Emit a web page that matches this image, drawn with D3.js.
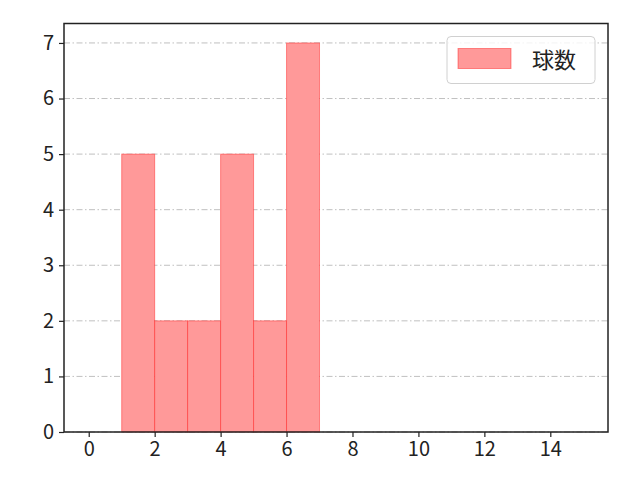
<!DOCTYPE html>
<html>
<head>
<meta charset="utf-8">
<script src="https://cdn.jsdelivr.net/npm/d3@7"></script>
<style>
  body { margin: 0; background: #fff; }
  text { font-family: "Noto Sans CJK JP", "DejaVu Sans", sans-serif; }
</style>
</head>
<body>
<div id="chart"></div>
<script>
// histogram bins (left edge, right edge) and counts
var binStarts = [1, 2, 3, 4, 5, 6];
var binEnds = [2, 3, 4, 5, 6, 7];
var counts = [5, 2, 2, 5, 2, 7];
var xTicks = [0, 2, 4, 6, 8, 10, 12, 14];
var yTicks = [0, 1, 2, 3, 4, 5, 6, 7];
var seriesName = "球数";

var svgWidth = 640;
var svgHeight = 480;

var margin = { top: 23.5, right: 32, bottom: 48, left: 64 };
var chartWidth = svgWidth - margin.left - margin.right;
var chartHeight = svgHeight - margin.top - margin.bottom;

var svg = d3.select("#chart")
  .append("svg")
  .attr("width", svgWidth)
  .attr("height", svgHeight);

var chartGroup = svg.append("g")
  .attr("transform", `translate(${margin.left}, ${margin.top})`);

var xScale = d3.scaleLinear()
  .domain([-0.75, 15.75])
  .range([0, chartWidth]);

var yScale = d3.scaleLinear()
  .domain([0, 7.35])
  .range([chartHeight, 0]);

// grid lines
chartGroup.selectAll(".grid")
  .data(yTicks)
  .enter()
  .append("line")
  .attr("x1", 0)
  .attr("x2", chartWidth)
  .attr("y1", d => yScale(d))
  .attr("y2", d => yScale(d))
  .attr("stroke", "#b0b0b0")
  .attr("stroke-width", 0.8)
  .attr("stroke-dasharray", "6,2.5,1.5,2.5");

var bins = counts.map((c, i) => ({ x0: binStarts[i], x1: binEnds[i], count: c }));

chartGroup.selectAll(".bar")
  .data(bins)
  .enter()
  .append("rect")
  .attr("class", "bar")
  .attr("x", d => xScale(d.x0))
  .attr("y", d => yScale(d.count))
  .attr("width", d => xScale(d.x1) - xScale(d.x0))
  .attr("height", d => yScale(0) - yScale(d.count))
  .attr("fill", "#ff9999")
  .attr("stroke", "#ff0000")
  .attr("stroke-opacity", 0.4)
  .attr("stroke-width", 1);

var bottomAxis = d3.axisBottom(xScale).tickValues(xTicks).tickSize(5).tickPadding(5);
var leftAxis = d3.axisLeft(yScale).tickValues(yTicks).tickSize(5).tickPadding(5);

var xAxisG = chartGroup.append("g")
  .attr("transform", `translate(0, ${chartHeight})`)
  .call(bottomAxis);
var yAxisG = chartGroup.append("g")
  .call(leftAxis);

[xAxisG, yAxisG].forEach(g => {
  g.select(".domain").remove();
  g.selectAll(".tick line").attr("stroke", "#222").attr("stroke-width", 1.2);
  g.selectAll(".tick text")
    .attr("fill", "#222")
    .style("font-size", "20px")
    .style("font-family", "'Noto Sans CJK JP', 'DejaVu Sans', sans-serif");
});

// frame
chartGroup.append("rect")
  .attr("x", 0)
  .attr("y", 0)
  .attr("width", chartWidth)
  .attr("height", chartHeight)
  .attr("fill", "none")
  .attr("stroke", "#222")
  .attr("stroke-width", 1.5);

// legend
var legend = chartGroup.append("g")
  .attr("transform", `translate(${chartWidth - 161}, 13)`);
legend.append("rect")
  .attr("width", 148)
  .attr("height", 47)
  .attr("rx", 4)
  .attr("fill", "#fff")
  .attr("fill-opacity", 0.8)
  .attr("stroke", "#d0d0d0")
  .attr("stroke-width", 1);
legend.append("rect")
  .attr("x", 11)
  .attr("y", 12)
  .attr("width", 53)
  .attr("height", 20)
  .attr("fill", "#ff9999")
  .attr("stroke", "#ff0000")
  .attr("stroke-opacity", 0.4);
legend.append("text")
  .attr("x", 85)
  .attr("y", 31)
  .attr("fill", "#222")
  .style("font-size", "22px")
  .text(seriesName);
</script>
</body>
</html>
